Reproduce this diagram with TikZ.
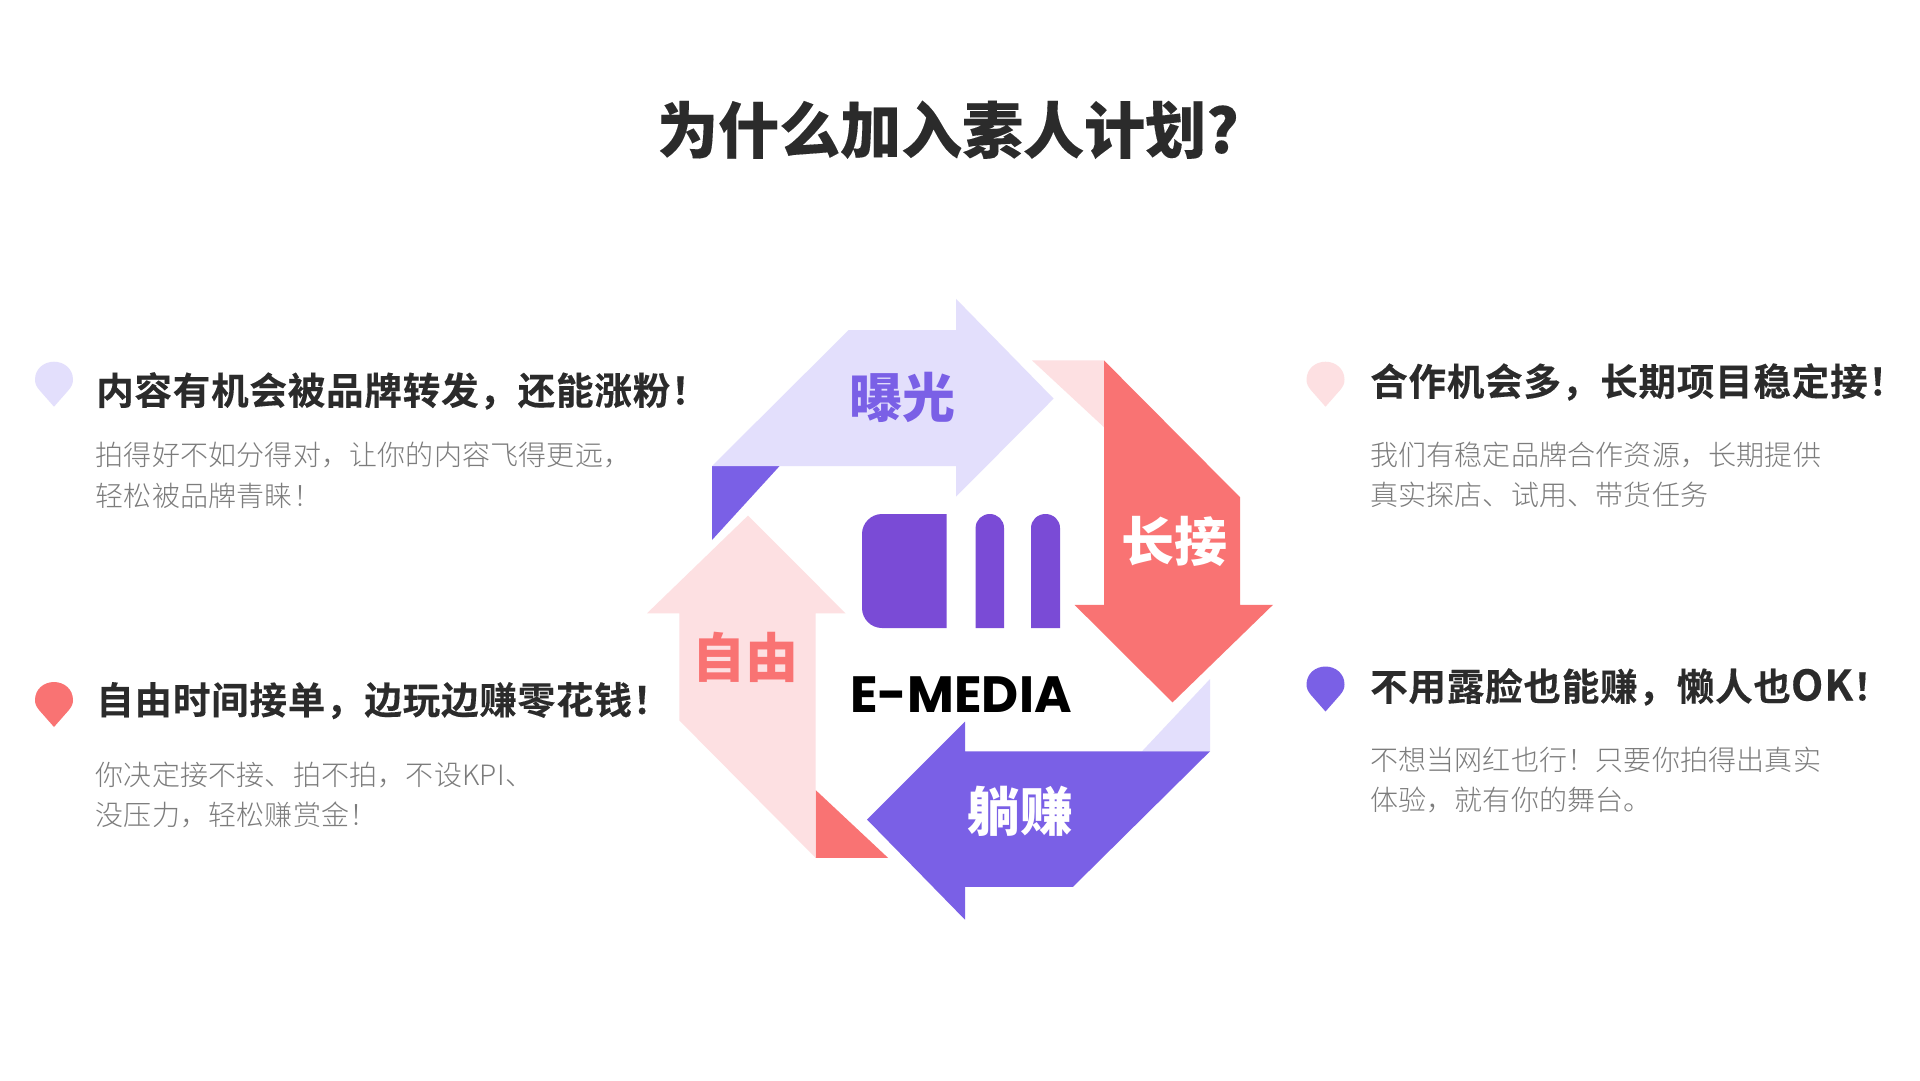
\documentclass[tikz,border=0pt]{standalone}
\usepackage{fontspec}
\setmainfont{Noto Sans CJK SC}
\newfontfamily\hfont[BoldFont={Noto Sans CJK SC Bold},BoldFeatures={FakeBold=0.25},LetterSpace=2.2]{Noto Sans CJK SC}
\newfontfamily\tfont[BoldFeatures={FakeBold=0.15}]{Noto Sans CJK SC}
\newfontfamily\lfont{Noto Sans CJK SC}
\newfontfamily\bfont[LetterSpace=0.7]{Noto Sans CJK SC Light}
\newfontfamily\logofont{Poppins}
\definecolor{lav}{HTML}{E3DFFC}
\definecolor{vio}{HTML}{7A60E6}
\definecolor{coral}{HTML}{F97373}
\definecolor{blush}{HTML}{FDE0E2}
\definecolor{logoc}{HTML}{7A4BD6}
\definecolor{ink}{HTML}{2B2B2B}
\definecolor{muted}{HTML}{7C7C7C}
\newcommand{\pinmark}[3]{% x0, y0, colour
  \fill[#3,shift={(#1,#2)}] (19,45) -- (4.5,28.5)
    .. controls (1.5,25) and (0,22) .. (0,18)
    .. controls (0,7) and (9,0) .. (19,0)
    .. controls (29,0) and (38,7) .. (38,18)
    .. controls (38,22) and (36.5,25) .. (33.5,28.5) -- cycle;}
\tikzset{
  head/.style={anchor=base west,inner sep=0pt,text=ink,font=\hfont\fontsize{37.5}{37.5}\selectfont\bfseries},
  body/.style={anchor=base west,inner sep=0pt,text=muted,font=\bfont\fontsize{28}{28}\selectfont},
  lbl/.style={anchor=base,inner sep=0pt,font=\lfont\fontsize{53}{53}\selectfont\bfseries},
}
\begin{document}
\begin{tikzpicture}[x=1pt,y=-1pt]
\useasboundingbox (0,0) rectangle (1920,1080);
\fill[white] (0,0) rectangle (1920,1080);
% corner triangles
\fill[vio] (712,466) -- (779.6,466) -- (712,540) -- cycle;
\fill[blush] (1032,360.4) -- (1104,360.4) -- (1104,427.2) -- cycle;
\fill[lav] (1210,679) -- (1210,751.3) -- (1142,751.3) -- cycle;
\fill[coral] (815.6,790) -- (815.6,857.8) -- (888,857.8) -- cycle;
% arrows
\fill[lav] (956,298.8) -- (1053.6,398.6) -- (956,496.7) -- (956,466) -- (712,466) -- (848.5,330.2) -- (956,330.2) -- cycle;
\fill[coral] (1104,360.4) -- (1240,497.2) -- (1240,604.8) -- (1273,604.8) -- (1172.5,702.4) -- (1074.5,604.8) -- (1104,604.8) -- cycle;
\fill[vio] (1210,751.3) -- (965,751.3) -- (965,721.5) -- (867,819.5) -- (965,919.7) -- (965,886.8) -- (1073,886.8) -- cycle;
\fill[blush] (815.6,857.8) -- (679.4,720.5) -- (679.4,613.3) -- (647,613.3) -- (748,515.6) -- (845.5,613.3) -- (815.6,613.3) -- cycle;
% logo
\fill[logoc] (946.5,514) -- (946.5,628) -- (882,628) .. controls (871,628) and (862,619) .. (862,608) -- (862,534) .. controls (862,523) and (871,514) .. (882,514) -- cycle;
\fill[logoc] (975.6,628) -- (975.6,528) .. controls (975.6,520) and (982,514) .. (989.8,514) .. controls (997.6,514) and (1004,520) .. (1004,528) -- (1004,628) -- cycle;
\fill[logoc] (1031,628) -- (1031,528) .. controls (1031,520) and (1037.5,514) .. (1045.5,514) .. controls (1053.5,514) and (1060,520) .. (1060,528) -- (1060,628) -- cycle;
\node[anchor=base,inner sep=0pt,font=\logofont\fontsize{51}{51}\selectfont\bfseries] (brand) at (961,712) {E-MEDIA};
% arrow labels
\node[lbl,text=vio] (lbla) at (902.7,417) {曝光};
\node[lbl,text=white] (lblb) at (1174,561) {长接};
\node[lbl,text=white] (lblc) at (1020,831.5) {躺赚};
\node[lbl,text=coral] (lbld) at (745.8,677.5) {自由};
% title
\node[anchor=base,inner sep=0pt,text=ink,font=\tfont\fontsize{61}{61}\selectfont\bfseries] (title) at (948,153) {为什么加入素人计划?};
% pins
\pinmark{35}{361.7}{lav}
\pinmark{35}{682}{coral}
\pinmark{1306.5}{361.7}{blush}
\pinmark{1306.5}{666.5}{vio}
% left texts
\node[head] (h1) at (96,404.5) {内容有机会被品牌转发，还能涨粉！};
\node[body] (b1a) at (95.5,465.3) {拍得好不如分得对，让你的内容飞得更远，};
\node[body] (b1b) at (95.5,506) {轻松被品牌青睐！};
\node[head] (h2) at (96,714) {自由时间接单，边玩边赚零花钱！};
\node[body] (b2a) at (95.5,785.3) {你决定接不接、拍不拍，不设KPI、};
\node[body] (b2b) at (95.5,825.3) {没压力，轻松赚赏金！};
% right texts
\node[head] (h3) at (1370,395.5) {合作机会多，长期项目稳定接！};
\node[body] (b3a) at (1370,465.3) {我们有稳定品牌合作资源，长期提供};
\node[body] (b3b) at (1370,505.3) {真实探店、试用、带货任务};
\node[head] (h4) at (1370,700.5) {不用露脸也能赚，懒人也{\fontsize{42}{42}\selectfont OK}！};
\node[body] (b4a) at (1370,770.3) {不想当网红也行！只要你拍得出真实};
\node[body] (b4b) at (1370,810.3) {体验，就有你的舞台。};
\end{tikzpicture}
\end{document}
